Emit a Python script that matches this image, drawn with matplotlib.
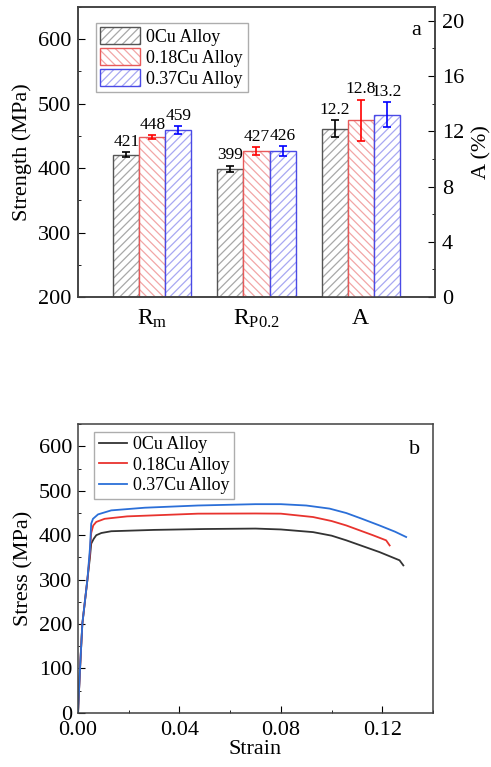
import matplotlib
matplotlib.use('Agg')
import matplotlib.pyplot as plt
import numpy as np
from matplotlib.patches import Patch
from matplotlib.ticker import MultipleLocator, FormatStrFormatter

plt.rcParams['font.family'] = ['Liberation Serif', 'DejaVu Serif']
plt.rcParams['mathtext.fontset'] = 'custom'
plt.rcParams['mathtext.rm'] = 'Liberation Serif'
plt.rcParams['mathtext.it'] = 'Liberation Serif:italic'
plt.rcParams['hatch.linewidth'] = 0.9

# ---- data (a) ----
alloys = ['0Cu Alloy', '0.18Cu Alloy', '0.37Cu Alloy']
props = [r'$\mathregular{R_m}$', r'$\mathregular{R_{P0.2}}$', 'A']
rm = [421, 448, 459]
rm_err = [4, 3, 6]
rp = [399, 427, 426]
rp_err = [5, 6, 8]
elong = [12.2, 12.8, 13.2]
elong_err = [0.6, 1.5, 0.9]
elong_txt = ['12.2', '12.8', '13.2']

# ---- data (b) ----
strain_0 = [0, 0.0008, 0.0017, 0.0037, 0.0047, 0.0052, 0.0062, 0.0072, 0.0092, 0.0131,
            0.03, 0.05, 0.07, 0.08, 0.0927, 0.1, 0.1058, 0.1189, 0.1268, 0.1283]
stress_0 = [0, 100, 200, 300, 350, 381, 392, 400, 405, 409,
            412, 414, 415, 413, 407, 399, 388.5, 362, 343.5, 332]
strain_18 = [0, 0.0008, 0.0017, 0.0037, 0.0047, 0.0052, 0.0060, 0.0072, 0.0105, 0.0194,
             0.0473, 0.07, 0.08, 0.0927, 0.1, 0.1058, 0.1163, 0.1215, 0.1229]
stress_18 = [0, 100, 200, 300, 360, 405, 422, 430, 437, 442.5,
             448.6, 449, 448.6, 441, 432, 422, 400, 388.5, 377]
strain_37 = [0, 0.0008, 0.0017, 0.0037, 0.0047, 0.0052, 0.0059, 0.0079, 0.0131, 0.0263,
             0.0473, 0.07, 0.08, 0.09, 0.0992, 0.1058, 0.112, 0.1189, 0.125, 0.1294]
stress_37 = [0, 100, 200, 300, 370, 426, 437, 447, 456, 462,
             467, 470, 470, 467, 460, 450, 437, 422, 408, 396]

hatch_cols = ['#a8a8a8', '#f2a6a6', '#a8a8f2']
edge_cols = ['#555555', '#e85a5a', '#4a4ae6']
err_cols = ['black', 'red', 'blue']
hatches = ['////', '\\\\\\\\', '////']
line_cols = ['#333333', '#e8332e', '#2b6fd8']

fig = plt.figure(figsize=(4.91, 7.67), dpi=100)
ax = fig.add_axes([0.1589, 0.6128, 0.727, 0.3781])
ax2 = ax.twinx()

x = np.arange(1, 4)
w = 0.25
strength = [rm, rp]
strength_err = [rm_err, rp_err]
handles = []
for i in range(3):
    xs = x[:2] + (i - 1) * w
    vals = [strength[0][i], strength[1][i]]
    errs = [strength_err[0][i], strength_err[1][i]]
    ax.bar(xs, vals, w, bottom=0, color='white', edgecolor=hatch_cols[i], hatch=hatches[i], linewidth=0)
    ax.bar(xs, vals, w, fill=False, edgecolor=edge_cols[i], linewidth=1.0)
    ax.errorbar(xs, vals, yerr=errs, fmt='none', ecolor=err_cols[i], elinewidth=1.2, capsize=3, capthick=1.2)
    for xx, v, e in zip(xs, vals, errs):
        ax.annotate(str(v), (xx, v + e), xytext=(0, 1.5), textcoords='offset points',
                    ha='center', va='bottom', fontsize=12.5)
    xa = x[2] + (i - 1) * w
    ax2.bar(xa, elong[i], w, color='white', edgecolor=hatch_cols[i], hatch=hatches[i], linewidth=0)
    ax2.bar(xa, elong[i], w, fill=False, edgecolor=edge_cols[i], linewidth=1.0)
    ax2.errorbar(xa, elong[i], yerr=elong_err[i], fmt='none', ecolor=err_cols[i], elinewidth=1.2, capsize=3, capthick=1.2)
    ax2.annotate(elong_txt[i], (xa, elong[i] + elong_err[i]), xytext=(0, 1.5), textcoords='offset points',
                 ha='center', va='bottom', fontsize=12.5)
    handles.append((Patch(facecolor='white', edgecolor=hatch_cols[i], hatch=hatches[i], linewidth=0),
                    Patch(fill=False, edgecolor=edge_cols[i], linewidth=1.0)))

ax.set_xlim(0.285, 3.715)
ax.set_ylim(200, 650)
ax2.set_ylim(0, 21)
ax.set_xticks(x)
ax.set_xticklabels(props)
ax.yaxis.set_major_locator(MultipleLocator(100))
ax.yaxis.set_minor_locator(MultipleLocator(50))
ax2.yaxis.set_major_locator(MultipleLocator(4))
ax2.yaxis.set_minor_locator(MultipleLocator(2))
ax.tick_params(axis='x', length=0, pad=8, labelsize=17)
ax.tick_params(axis='y', which='both', direction='in', labelsize=16, pad=5)
ax.tick_params(axis='y', which='major', length=5)
ax.tick_params(axis='y', which='minor', length=2.5)
ax2.tick_params(axis='y', which='both', direction='in', labelsize=16, pad=5)
ax2.tick_params(axis='y', which='major', length=5)
ax2.tick_params(axis='y', which='minor', length=2.5)
ax.set_ylabel('Strength (MPa)', fontsize=16, labelpad=4)
ax2.set_ylabel('A (%)', fontsize=16, labelpad=6)
ax.text(0.948, 0.92, 'a', transform=ax.transAxes, fontsize=16, ha='center', va='center')
leg = ax.legend(handles, alloys, loc='upper left', bbox_to_anchor=(0.05, 0.945), fontsize=13,
                frameon=True, fancybox=False, edgecolor='#999999', handlelength=2.2, handleheight=1.0,
                borderpad=0.25, labelspacing=0.15, handletextpad=0.35, borderaxespad=0)
leg.get_frame().set_linewidth(1.0)

# ---- (b) ----
bx = fig.add_axes([0.1589, 0.0708, 0.723, 0.376])
bx.plot(strain_0, stress_0, color=line_cols[0], lw=1.3, label=alloys[0])
bx.plot(strain_18, stress_18, color=line_cols[1], lw=1.3, label=alloys[1])
bx.plot(strain_37, stress_37, color=line_cols[2], lw=1.3, label=alloys[2])
bx.set_xlim(0, 0.14)
bx.set_ylim(0, 650)
bx.xaxis.set_major_locator(MultipleLocator(0.04))
bx.xaxis.set_minor_locator(MultipleLocator(0.02))
bx.xaxis.set_major_formatter(FormatStrFormatter('%.2f'))
bx.yaxis.set_major_locator(MultipleLocator(100))
bx.yaxis.set_minor_locator(MultipleLocator(50))
bx.tick_params(which='both', direction='in', labelsize=16, pad=4)
bx.tick_params(axis='x', which='both', pad=6)
bx.tick_params(which='major', length=5)
bx.tick_params(which='minor', length=2.5)
bx.set_xlabel('Strain', fontsize=16, labelpad=0)
bx.set_ylabel('Stress (MPa)', fontsize=16, labelpad=4)
bx.text(0.948, 0.912, 'b', transform=bx.transAxes, fontsize=16, ha='center', va='center')
leg2 = bx.legend(loc='upper left', bbox_to_anchor=(0.045, 0.975), fontsize=13, frameon=True,
                 fancybox=False, edgecolor='#999999', handlelength=1.6, borderpad=0.25,
                 labelspacing=0.2, handletextpad=0.3, borderaxespad=0)
leg2.get_frame().set_linewidth(1.0)

for a in (ax, ax2, bx):
    for s in a.spines.values():
        s.set_color('#404040')
        s.set_linewidth(1.1)

fig.savefig('out.png', dpi=100)
